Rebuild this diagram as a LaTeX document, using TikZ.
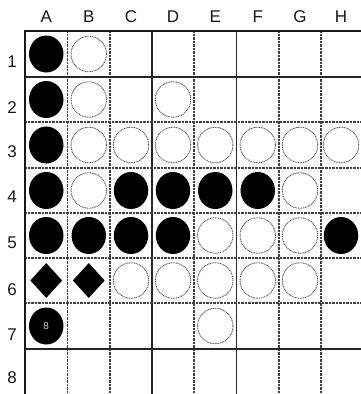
\documentclass[tikz,border=0pt]{standalone}
\usepackage{fontspec}
\setmainfont{Liberation Sans}
\usetikzlibrary{shapes.geometric}
\tikzset{
  bstone/.style={draw=none,fill=black,ellipse,minimum width=34.5pt,minimum height=37pt,inner sep=0pt},
  wstone/.style={draw=black!65,line width=0.9pt,dash pattern=on 1pt off 0.7pt,circle,minimum size=35.5pt,inner sep=0pt,fill=white},
  bdiam/.style={fill=black,diamond,minimum width=32pt,minimum height=35pt,inner sep=0pt},
  solidline/.style={line width=1.2pt,black!85},
  dotline/.style={line width=1.1pt,black!75,dash pattern=on 0.8pt off 0.6pt},
  border/.style={line width=1.9pt,black!90},
  lab/.style={font=\fontsize{17}{17}\selectfont,inner sep=0pt,text=black!90,draw=none}
}
\begin{document}
\begin{tikzpicture}[x=1pt,y=-1pt]
\useasboundingbox (0,0) rectangle (361,394);
\fill[white] (0,0) rectangle (361,394);
% cell centres
\foreach \c/\x in {A/46.25,B/88.75,C/131,D/173,E/215.25,F/257.75,G/300,H/341}{
  \foreach \r/\y in {1/54,2/99.5,3/145,4/190.5,5/235.5,6/280.5,7/326,8/371.5}{
    \coordinate (\c\r) at (\x,\y);
  }
  \node[lab] (col\c) at (\x,17) {\c};
}
\foreach \r/\y in {1/62,2/108,3/152,4/197,5/243,6/290,7/335,8/378}{
  \node[lab] (row\r) at (12,\y) {\r};
}
% grid
\foreach \x in {67.5,110,194,279,321}{\draw[dotline] (\x,31) -- (\x,394);}
\foreach \x in {152,236.5}{\draw[solidline] (\x,31) -- (\x,394);}
\foreach \y in {122,168,213,258,303}{\draw[dotline] (25,\y) -- (361,\y);}
\foreach \y in {77,349}{\draw[solidline] (25,\y) -- (361,\y);}
\draw[border] (25,394) -- (25,31) -- (361,31);
% stones
\foreach \p in {A1,A2,A3,A4,C4,D4,E4,F4,A5,B5,C5,D5,H5}{\node[bstone] (s\p) at (\p) {};}
\foreach \p in {B1,B2,D2,B3,C3,D3,E3,F3,G3,H3,B4,G4,E5,F5,G5,C6,D6,E6,F6,G6,E7}{\node[wstone] (s\p) at (\p) {};}
\node[bdiam] (sA6) at (A6) {};
\node[bdiam] (sB6) at (B6) {};
\node[bstone,text=black!15,font=\fontsize{10}{10}\selectfont] (sA7) at (A7) {8};
\end{tikzpicture}
\end{document}
